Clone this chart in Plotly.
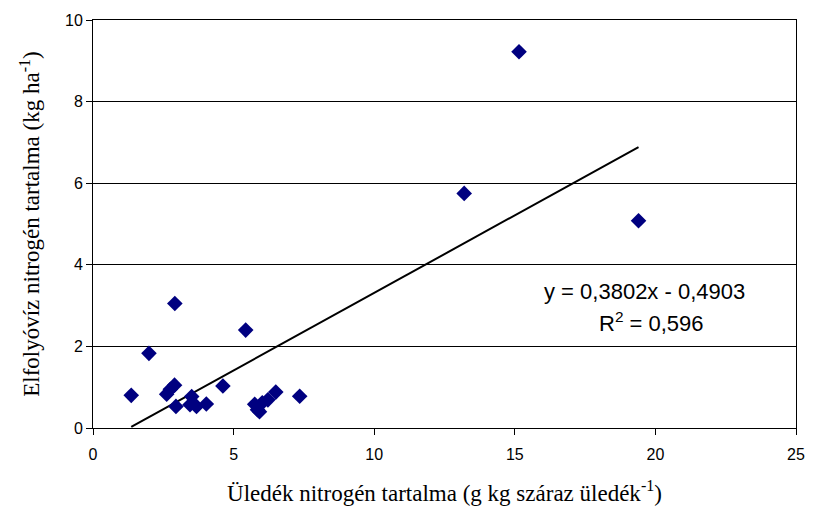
import plotly.graph_objects as go

x_vals = [1.36, 1.99, 2.91, 5.43, 2.62, 2.75, 2.90, 2.95, 3.51, 3.45, 3.68, 4.03, 4.62,
          5.75, 5.85, 5.92, 6.02, 6.22, 6.50, 7.35, 13.2, 15.15, 19.4]
y_vals = [0.80, 1.83, 3.05, 2.40, 0.83, 0.95, 1.05, 0.53, 0.77, 0.57, 0.53, 0.59, 1.03,
          0.58, 0.45, 0.40, 0.62, 0.69, 0.88, 0.78, 5.75, 9.22, 5.08]
slope = 0.3802
intercept = -0.4903
eq_text = "y = 0,3802x - 0,4903"
r2_text = "R<sup>2</sup> = 0,596"
x_ticks = [0, 5, 10, 15, 20, 25]
y_ticks = [0, 2, 4, 6, 8, 10]

x0 = max(min(x_vals), -intercept / slope)
x1 = max(x_vals)
trend_x = [x0, x1]
trend_y = [slope * v + intercept for v in trend_x]

fig = go.Figure()
fig.add_trace(go.Scatter(x=trend_x, y=trend_y, mode="lines",
                         line=dict(color="black", width=2), showlegend=False))
fig.add_trace(go.Scatter(x=x_vals, y=y_vals, mode="markers",
                         marker=dict(symbol="diamond", size=12, color="#000080"),
                         showlegend=False))

fig.add_annotation(x=19.6, y=3.35, text=eq_text, showarrow=False,
                   font=dict(family="Liberation Sans, Arial", size=22, color="black"))
fig.add_annotation(x=19.85, y=2.6, text=r2_text, showarrow=False,
                   font=dict(family="Liberation Sans, Arial", size=22, color="black"))

fig.update_layout(
    width=817, height=513,
    margin=dict(l=93, r=17, t=14, b=85),
    plot_bgcolor="white", paper_bgcolor="white",
    xaxis=dict(range=[0, 25], tickvals=x_ticks, showgrid=False, zeroline=False,
               showline=True, linecolor="black", linewidth=1, mirror=True,
               ticks="outside", ticklen=6, tickcolor="black", ticklabelstandoff=6,
               tickfont=dict(family="Liberation Sans, Arial", size=16, color="black"),
               title=dict(text="Üledék nitrogén tartalma (g kg száraz üledék<sup>-1</sup>)",
                          font=dict(family="Liberation Serif, Times New Roman", size=23, color="black"),
                          standoff=22)),
    yaxis=dict(range=[0, 10], tickvals=y_ticks, showgrid=True, gridcolor="black", gridwidth=1,
               zeroline=False, showline=True, linecolor="black", linewidth=1, mirror=True,
               ticks="outside", ticklen=6, tickcolor="black",
               tickfont=dict(family="Liberation Sans, Arial", size=16, color="black"),
               title=dict(text="Elfolyóvíz nitrogén tartalma (kg ha<sup>-1</sup>)",
                          font=dict(family="Liberation Serif, Times New Roman", size=23, color="black"),
                          standoff=18)),
)

fig.write_html("out.html")
